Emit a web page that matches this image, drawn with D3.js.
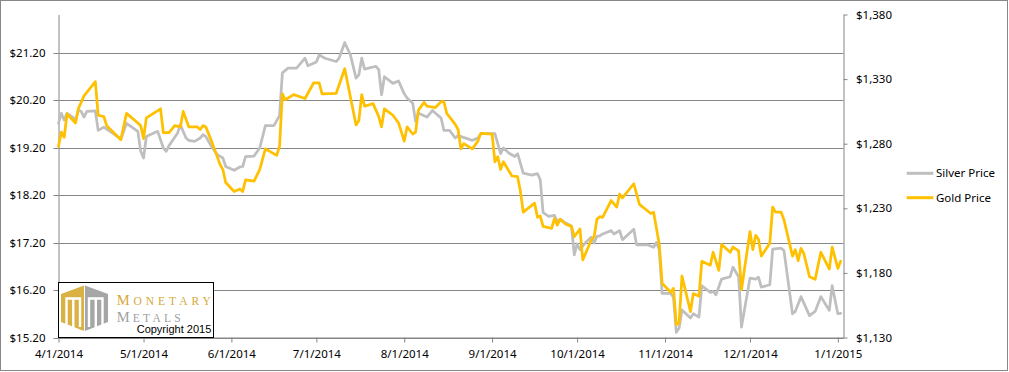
<!DOCTYPE html>
<html><head><meta charset="utf-8">
<script src="https://cdn.jsdelivr.net/npm/d3@7"></script>
<style>body{margin:0;background:#fff;} svg{display:block;}</style>
</head><body>
<svg id="chart" width="1009" height="372"></svg>
<script>
// ---------- DATA ----------
const silverDates = ["2014-04-01","2014-04-02","2014-04-03","2014-04-04","2014-04-06","2014-04-07","2014-04-08","2014-04-09","2014-04-10","2014-04-11","2014-04-14","2014-04-15","2014-04-17","2014-04-23","2014-04-25","2014-04-29","2014-04-30","2014-05-01","2014-05-02","2014-05-06","2014-05-08","2014-05-09","2014-05-10","2014-05-13","2014-05-14","2014-05-16","2014-05-17","2014-05-19","2014-05-21","2014-05-22","2014-05-23","2014-05-25","2014-05-27","2014-05-29","2014-05-30","2014-06-02","2014-06-04","2014-06-05","2014-06-06","2014-06-09","2014-06-11","2014-06-13","2014-06-16","2014-06-18","2014-06-19","2014-06-21","2014-06-24","2014-06-27","2014-06-28","2014-07-01","2014-07-02","2014-07-04","2014-07-08","2014-07-09","2014-07-11","2014-07-13","2014-07-15","2014-07-16","2014-07-17","2014-07-18","2014-07-22","2014-07-23","2014-07-24","2014-07-25","2014-07-28","2014-07-30","2014-08-01","2014-08-02","2014-08-04","2014-08-05","2014-08-06","2014-08-09","2014-08-11","2014-08-13","2014-08-14","2014-08-15","2014-08-17","2014-08-19","2014-08-20","2014-08-25","2014-08-27","2014-08-28","2014-09-02","2014-09-04","2014-09-05","2014-09-07","2014-09-09","2014-09-10","2014-09-12","2014-09-15","2014-09-17","2014-09-18","2014-09-19","2014-09-21","2014-09-23","2014-09-24","2014-09-25","2014-09-27","2014-09-29","2014-09-30","2014-10-01","2014-10-02","2014-10-04","2014-10-06","2014-10-07","2014-10-08","2014-10-09","2014-10-10","2014-10-13","2014-10-14","2014-10-16","2014-10-17","2014-10-21","2014-10-22","2014-10-26","2014-10-28","2014-10-29","2014-10-30","2014-10-31","2014-11-03","2014-11-04","2014-11-05","2014-11-06","2014-11-07","2014-11-10","2014-11-11","2014-11-13","2014-11-14","2014-11-17","2014-11-18","2014-11-19","2014-11-21","2014-11-24","2014-11-25","2014-11-27","2014-11-28","2014-12-01","2014-12-03","2014-12-04","2014-12-05","2014-12-08","2014-12-09","2014-12-12","2014-12-13","2014-12-16","2014-12-17","2014-12-19","2014-12-22","2014-12-24","2014-12-26","2014-12-29","2014-12-30","2015-01-01","2015-01-02"];
const silverValues = [19.71,19.92,19.78,19.92,19.84,19.76,19.99,19.96,19.84,19.96,19.97,19.56,19.63,19.38,19.71,19.54,19.12,18.98,19.43,19.54,19.19,19.12,19.24,19.50,19.68,19.40,19.35,19.33,19.40,19.47,19.43,19.22,19.05,18.98,18.80,18.72,18.79,18.80,19.01,19.02,19.19,19.66,19.66,19.87,20.77,20.87,20.87,21.08,20.92,21.00,21.15,21.08,21.01,21.08,21.41,21.15,20.66,20.73,21.08,20.85,20.91,20.84,20.31,20.69,20.55,20.60,20.33,20.24,20.13,19.75,19.92,19.84,19.98,19.87,19.82,19.56,19.56,19.40,19.45,19.35,19.40,19.49,19.49,19.07,19.19,19.08,19.01,19.07,18.66,18.62,18.65,18.52,17.83,17.75,17.77,17.64,17.69,17.61,17.55,16.94,17.17,17.05,17.20,17.31,17.19,17.33,17.34,17.38,17.45,17.38,17.45,17.26,17.48,17.15,17.15,17.10,17.20,17.05,16.13,16.13,16.05,15.31,15.40,15.78,15.61,15.70,15.63,16.29,16.15,16.17,16.10,16.43,16.48,16.68,16.48,15.42,16.45,16.43,16.47,16.26,16.31,17.06,17.08,17.03,15.70,15.75,16.06,15.66,15.75,16.06,15.77,16.29,15.70,15.71];

const goldDates = ["2014-04-01","2014-04-02","2014-04-03","2014-04-04","2014-04-07","2014-04-08","2014-04-10","2014-04-14","2014-04-15","2014-04-17","2014-04-18","2014-04-23","2014-04-25","2014-04-29","2014-04-30","2014-05-01","2014-05-02","2014-05-07","2014-05-08","2014-05-10","2014-05-12","2014-05-14","2014-05-15","2014-05-17","2014-05-20","2014-05-21","2014-05-22","2014-05-23","2014-05-25","2014-05-28","2014-05-29","2014-05-30","2014-06-02","2014-06-04","2014-06-05","2014-06-06","2014-06-09","2014-06-11","2014-06-13","2014-06-17","2014-06-18","2014-06-19","2014-06-20","2014-06-23","2014-06-27","2014-06-30","2014-07-02","2014-07-03","2014-07-08","2014-07-11","2014-07-15","2014-07-16","2014-07-17","2014-07-18","2014-07-21","2014-07-23","2014-07-24","2014-07-25","2014-07-28","2014-07-30","2014-08-01","2014-08-02","2014-08-04","2014-08-05","2014-08-06","2014-08-08","2014-08-09","2014-08-12","2014-08-14","2014-08-15","2014-08-16","2014-08-19","2014-08-20","2014-08-21","2014-08-22","2014-08-25","2014-08-27","2014-08-28","2014-09-01","2014-09-02","2014-09-03","2014-09-04","2014-09-05","2014-09-08","2014-09-10","2014-09-11","2014-09-12","2014-09-16","2014-09-17","2014-09-18","2014-09-19","2014-09-22","2014-09-23","2014-09-24","2014-09-25","2014-09-27","2014-09-29","2014-09-30","2014-10-02","2014-10-03","2014-10-06","2014-10-07","2014-10-08","2014-10-09","2014-10-10","2014-10-13","2014-10-15","2014-10-16","2014-10-17","2014-10-21","2014-10-23","2014-10-27","2014-10-28","2014-10-30","2014-10-31","2014-11-03","2014-11-04","2014-11-05","2014-11-06","2014-11-07","2014-11-10","2014-11-11","2014-11-13","2014-11-14","2014-11-17","2014-11-18","2014-11-20","2014-11-21","2014-11-24","2014-11-25","2014-11-27","2014-11-28","2014-12-01","2014-12-02","2014-12-03","2014-12-04","2014-12-05","2014-12-08","2014-12-09","2014-12-10","2014-12-12","2014-12-13","2014-12-16","2014-12-17","2014-12-18","2014-12-19","2014-12-20","2014-12-22","2014-12-24","2014-12-26","2014-12-29","2014-12-30","2015-01-01","2015-01-02"];
const goldValues = [1278,1289,1285,1303,1296,1307,1317,1328,1302,1301,1294,1283,1303.5,1296,1294,1284,1300,1307,1288.5,1288.5,1294,1293,1305,1293,1293,1291,1294,1293,1282,1264,1260,1250,1243,1245,1243,1252,1251,1260,1276,1271,1278,1318.5,1314,1318,1315,1327,1327,1318.5,1319,1338,1294.5,1298,1318,1309,1311,1301,1293,1307,1302,1296,1282,1293,1287.5,1289,1306,1312,1309,1308,1312.5,1312.5,1303.5,1295,1291,1276,1280,1276,1282,1288,1287.5,1266,1270,1260,1266,1255,1254.5,1243,1227,1234,1223,1224,1216,1214.5,1222,1217,1221.5,1217.6,1216,1208,1214,1190,1205.5,1208,1221.5,1223.5,1223,1236,1231,1241,1238,1249,1233,1226,1227,1202,1172,1165,1168,1140,1141.5,1177.6,1150,1164,1162,1189,1186,1196,1182,1202,1196,1200,1197,1167,1212,1198,1209,1206,1193,1203,1231,1227,1227,1221,1193,1198,1189.5,1199,1195,1177,1175,1196,1183,1200,1183.5,1189];

const seriesNames = ["Silver Price","Gold Price"];
const xTickDates = ["2014-04-01","2014-05-01","2014-06-01","2014-07-01","2014-08-01","2014-09-01","2014-10-01","2014-11-01","2014-12-01","2015-01-01"];
const xDomain = ["2014-04-01","2015-01-03"];
const leftTicks = [15.2,16.2,17.2,18.2,19.2,20.2,21.2];
const leftDomain = [15.2,22];
const rightTicks = [1130,1180,1230,1280,1330,1380];
const rightDomain = [1130,1380];

// ---------- CHART ----------
const svg = d3.select("#chart");
const parse = d3.utcParse("%Y-%m-%d");
const P = {l:58.5, r:843.5, t:14.5, b:337.5};
const GRID = "#868686";
const FONT = "'Noto Sans', 'Liberation Sans', sans-serif";
const SERIF = "'Liberation Serif', 'DejaVu Serif', serif";
const SILVER = "#BFBFBF", GOLD = "#FFC000";

svg.append("rect").attr("x",0.5).attr("y",0.5).attr("width",1007).attr("height",370)
  .attr("fill","#fff").attr("stroke","#888").attr("stroke-width",1);

const x = d3.scaleUtc().domain(xDomain.map(parse)).range([P.l,P.r]);
const yL = d3.scaleLinear().domain(leftDomain).range([P.b,P.t]);
const yR = d3.scaleLinear().domain(rightDomain).range([P.b,P.t]);

// gridlines
svg.append("g").selectAll("line").data(leftTicks).join("line")
  .attr("x1",P.l).attr("x2",P.r)
  .attr("y1",d=>Math.round(yL(d))+0.5).attr("y2",d=>Math.round(yL(d))+0.5)
  .attr("stroke",GRID).attr("stroke-width",1);

function styleAxis(g){
  g.selectAll("path.domain").attr("stroke",GRID).attr("stroke-width",1);
  g.selectAll(".tick line").attr("stroke",GRID).attr("stroke-width",1);
  g.selectAll("text").attr("font-family",FONT).attr("font-size","11.5px").attr("fill","#000");
}

const axL = svg.append("g").attr("transform",`translate(${P.l},0)`)
  .call(d3.axisLeft(yL).tickValues(leftTicks).tickSize(5).tickSizeOuter(0).tickPadding(8)
    .tickFormat(d=>"$"+d.toFixed(2)));
axL.selectAll(".tick").attr("transform",d=>`translate(0,${Math.round(yL(d))+0.5})`);
styleAxis(axL);

const axR = svg.append("g").attr("transform",`translate(${P.r},0)`)
  .call(d3.axisRight(yR).tickValues(rightTicks).tickSize(4).tickSizeOuter(0).tickPadding(8.5)
    .tickFormat(d=>"$"+d3.format(",")(d)));
styleAxis(axR);

const axB = svg.append("g").attr("transform",`translate(0,${P.b})`)
  .call(d3.axisBottom(x).tickValues(xTickDates.map(parse)).tickSize(5).tickSizeOuter(0).tickPadding(7.5)
    .tickFormat(d3.utcFormat("%-m/%-d/%Y")));
styleAxis(axB);

// series
const silver = silverDates.map((d,i)=>({date:parse(d), v:silverValues[i]}));
const gold = goldDates.map((d,i)=>({date:parse(d), v:goldValues[i]}));

svg.append("path").datum(silver)
  .attr("d", d3.line().x(d=>x(d.date)).y(d=>yL(d.v)))
  .attr("fill","none").attr("stroke",SILVER).attr("stroke-width",2.75)
  .attr("stroke-linejoin","round").attr("stroke-linecap","round");
svg.append("path").datum(gold)
  .attr("d", d3.line().x(d=>x(d.date)).y(d=>yR(d.v)))
  .attr("fill","none").attr("stroke",GOLD).attr("stroke-width",2.75)
  .attr("stroke-linejoin","round").attr("stroke-linecap","round");

// legend
const legY = [173.3, 197.7];
const lg = svg.append("g");
seriesNames.forEach((n,i)=>{
  lg.append("line").attr("x1",906.7).attr("x2",933.3).attr("y1",legY[i]).attr("y2",legY[i])
    .attr("stroke", i===0?SILVER:GOLD).attr("stroke-width",3);
  lg.append("text").attr("x",936).attr("y",legY[i]).attr("dy","0.35em")
    .attr("font-family",FONT).attr("font-size","11.5px").attr("fill","#000").text(n);
});

// logo box
const logo = svg.append("g");
logo.append("rect").attr("x",58.5).attr("y",282.5).attr("width",155).attr("height",55)
  .attr("fill","#fff").attr("stroke","#000").attr("stroke-width",1);
logo.append("path").attr("d","M84,285.5 L61,294 L61,322 L84,331 Z").attr("fill","#D9B243");
logo.append("path").attr("d","M85,285.5 L108,294 L108,322 L85,331 Z").attr("fill","#A6A6A6");
logo.append("path").attr("d","M66.5,326 V298.5 H80 V327 M73.3,298.5 V328 M89,327 V298.5 H102.5 V326 M95.8,298.5 V328")
  .attr("fill","none").attr("stroke","#fff").attr("stroke-width",2.4);

function smallCaps(txt, y, color, len){
  const t = logo.append("text").attr("x",116.7).attr("y",y)
    .attr("font-family",SERIF).attr("fill",color)
    .attr("textLength",len).attr("lengthAdjust","spacing");
  t.append("tspan").attr("font-size","14.5px").text(txt[0]);
  t.append("tspan").attr("font-size","11.5px").text(txt.slice(1));
}
smallCaps("MONETARY", 304.5, "#D4A93A", 94);
smallCaps("METALS", 321.7, "#A0A0A0", 64);
logo.append("text").attr("x",136.7).attr("y",333)
  .attr("font-family","'Liberation Sans', Arial, sans-serif").attr("font-size","11px")
  .attr("fill","#000").text("Copyright 2015");
</script>
</body></html>
